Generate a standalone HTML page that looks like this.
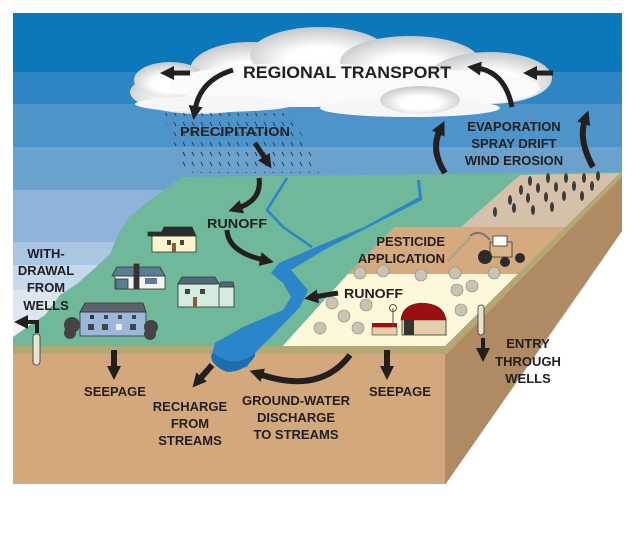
<!DOCTYPE html>
<html><head><meta charset="utf-8"><style>
html,body{margin:0;padding:0;background:#fff;}
svg{display:block;}
text{font-family:"Liberation Sans",Arial,sans-serif;font-weight:bold;fill:#231f20;}
</style></head><body>
<svg width="632" height="549" viewBox="0 0 632 549" xmlns="http://www.w3.org/2000/svg">
<defs>
<marker id="ah" markerUnits="userSpaceOnUse" markerWidth="16" markerHeight="16" refX="4" refY="8" orient="auto">
<path d="M0,1 L14,8 L0,15 Z" fill="#231f20"/>
</marker>
<pattern id="rain" width="9" height="10" patternUnits="userSpaceOnUse">
<line x1="3" y1="2" x2="5" y2="6" stroke="#2a3d55" stroke-width="1"/>
</pattern>
<radialGradient id="cl2" cx="0.5" cy="0.6" r="0.6">
<stop offset="0.4" stop-color="#ffffff"/><stop offset="1" stop-color="#c4c6c9"/>
</radialGradient>
</defs>

<!-- sky bands -->
<rect x="13" y="13" width="609" height="60" fill="#0a78ba"/>
<rect x="13" y="72" width="609" height="32" fill="#2f86c4"/>
<rect x="13" y="104" width="609" height="43" fill="#4d94ca"/>
<rect x="13" y="147" width="609" height="43" fill="#6aa1cd"/>
<rect x="13" y="190" width="609" height="52" fill="#8fb4dc"/>
<rect x="13" y="242" width="609" height="23" fill="#a9c6e3"/>
<rect x="13" y="265" width="609" height="25" fill="#c5d8ec"/>
<rect x="13" y="290" width="609" height="30" fill="#dde7f2"/>
<rect x="13" y="320" width="609" height="40" fill="#eef2f7"/>
<polygon points="446,490 622,231 632,231 632,549 446,549" fill="#ffffff"/>

<!-- clouds -->
<g>
<ellipse cx="200" cy="92" rx="70" ry="22" fill="url(#cl2)"/>
<ellipse cx="250" cy="70" rx="60" ry="28" fill="url(#cl2)"/>
<ellipse cx="320" cy="55" rx="70" ry="28" fill="url(#cl2)"/>
<ellipse cx="410" cy="62" rx="70" ry="26" fill="url(#cl2)"/>
<ellipse cx="490" cy="78" rx="62" ry="26" fill="url(#cl2)"/>
<ellipse cx="170" cy="80" rx="36" ry="18" fill="url(#cl2)"/>
<ellipse cx="300" cy="85" rx="130" ry="22" fill="#fafafa"/>
<ellipse cx="440" cy="88" rx="100" ry="18" fill="#fafafa"/>
<ellipse cx="215" cy="104" rx="80" ry="8" fill="#f6f6f6"/>
<ellipse cx="410" cy="108" rx="90" ry="9" fill="#f6f6f6"/>
<ellipse cx="420" cy="100" rx="40" ry="14" fill="url(#cl2)"/>
</g>

<!-- rain -->
<polygon points="162,113 291,113 320,173 186,173" fill="url(#rain)"/>

<!-- block faces -->
<polygon points="13,352 446,352 446,484 13,484" fill="#d2a87c"/>
<polygon points="445,352 622,173 622,231 445,485" fill="#b08a62"/>
<path d="M182,177 L622,172 L622,176 L445,350 L13,350 L13,337 L30,325 L45,315 L60,295 L78,283 L95,268 L110,254 L118,235 L128,218 L148,202 Z" fill="#6fb89a"/>
<polygon points="461,227 520,175 622,173 622,176 567,227" fill="#d5c1a9"/>
<polygon points="395,227 567,227 518,274 348,274" fill="#d5aa7f"/>
<polygon points="348,274 518,274 445,350 279,350" fill="#fdf8d9"/>
<polygon points="13,346 446,346 446,354 13,354" fill="#b3a874"/>
<polygon points="441,350 622,171 622,177 446,355" fill="#b3a874"/>

<!-- river -->
<path d="M417,180 L419,197 L364,227 L316,247 L279,263 L271,273 L283,283 L291,297 L283,310 L243,327 L215,343 L211,357 L227,370 L247,367 L255,353 L271,337 L300,307 L308,290 L291,270 L324,250 L422,200 L420,180 Z" fill="#2a86c8"/>
<path d="M287,178 L267,210 L283,227 L312,247" fill="none" stroke="#2a86c8" stroke-width="2.5"/>
<path d="M213,353 Q235,370 255,353 L255,356 Q245,372 227,372 Q212,366 211,356 Z" fill="#1c6fae"/>

<!-- houses -->
<g stroke="#333" stroke-width="0.8">
<rect x="152" y="236" width="44" height="16" fill="#fbf4cc"/>
<polygon points="160,236 164,227 192,227 196,236" fill="#2b2b2b"/>
<rect x="148" y="232" width="13" height="4" fill="#2b2b2b"/>
<rect x="115" y="276" width="50" height="13" fill="#f3f3f0"/>
<polygon points="112,276 117,267 160,267 165,276" fill="#597d95"/>
<rect x="134" y="264" width="5" height="25" fill="#333"/>
<rect x="116" y="279" width="12" height="10" fill="#597d95"/>
<rect x="178" y="284" width="42" height="23" fill="#d4ece0"/>
<rect x="219" y="287" width="15" height="20" fill="#d4ece0"/>
<polygon points="178,284 182,277 215,277 219,284" fill="#4f6b78"/>
<polygon points="219,287 221,282 233,282 234,287" fill="#4f6b78"/>
<rect x="80" y="312" width="66" height="24" fill="#9ab8dc"/>
<polygon points="80,312 85,303 143,303 146,312" fill="#5c6268"/>
</g>
<g fill="#444">
<circle cx="72" cy="325" r="8"/><circle cx="70" cy="333" r="6"/><circle cx="151" cy="327" r="7"/><circle cx="150" cy="334" r="6"/>
<rect x="90" y="315" width="4" height="4" fill="#333"/><rect x="104" y="315" width="4" height="4"/><rect x="118" y="315" width="4" height="4"/><rect x="132" y="315" width="4" height="4"/>
<rect x="88" y="324" width="6" height="6"/><rect x="102" y="324" width="6" height="6"/><rect x="116" y="324" width="6" height="6" fill="#eee"/><rect x="130" y="324" width="6" height="6"/>
<rect x="167" y="240" width="4" height="5"/><rect x="180" y="240" width="4" height="5"/><rect x="172" y="243" width="4" height="9" fill="#8a5a3a"/>
<rect x="185" y="289" width="5" height="5"/><rect x="200" y="289" width="5" height="5"/><rect x="193" y="297" width="4" height="10" fill="#8a5a3a"/>
<rect x="145" y="278" width="12" height="6" fill="#597d95"/>
</g>

<!-- trees -->
<g fill="#c8c3b3" stroke="#8c8577" stroke-width="0.6">
<circle cx="360" cy="273" r="6"/><circle cx="383" cy="271" r="6"/><circle cx="421" cy="275" r="6"/><circle cx="455" cy="273" r="6"/><circle cx="494" cy="273" r="6"/>
<circle cx="457" cy="290" r="6"/><circle cx="472" cy="286" r="6"/><circle cx="332" cy="303" r="6"/><circle cx="366" cy="305" r="6"/>
<circle cx="344" cy="316" r="6"/><circle cx="320" cy="328" r="6"/><circle cx="358" cy="328" r="6"/><circle cx="461" cy="310" r="6"/>
</g>
<rect x="402" y="318" width="44" height="17" fill="#e2cfa8" stroke="#333" stroke-width="0.8"/>
<path d="M401,320 Q402,305 420,303 Q444,303 446,320 Z" fill="#9c0f10" stroke="#333" stroke-width="0.6"/>
<rect x="404" y="320" width="10" height="15" fill="#333"/>
<rect x="372" y="327" width="25" height="8" fill="#e2cfa8" stroke="#333" stroke-width="0.6"/>
<rect x="372" y="323" width="25" height="4" fill="#9c0f10"/>
<line x1="393" y1="308" x2="393" y2="327" stroke="#555" stroke-width="1"/>
<circle cx="393" cy="308" r="3.5" fill="none" stroke="#555"/>
<rect x="490" y="242" width="22" height="15" fill="#d9b48a" stroke="#333" stroke-width="0.8"/>
<rect x="493" y="236" width="14" height="10" fill="#fff" stroke="#333" stroke-width="0.8"/>
<circle cx="485" cy="257" r="7" fill="#2b2b2b"/><circle cx="505" cy="262" r="5" fill="#2b2b2b"/><circle cx="520" cy="258" r="5" fill="#2b2b2b"/>
<path d="M490,240 Q480,228 470,236" stroke="#777" stroke-width="2" fill="none"/>
<line x1="470" y1="238" x2="447" y2="262" stroke="#a89a86" stroke-width="3" stroke-dasharray="2 1"/>
<g fill="#3b3b3b">
<ellipse cx="530" cy="181" rx="2" ry="5"/><ellipse cx="548" cy="178" rx="2" ry="5"/><ellipse cx="566" cy="178" rx="2" ry="5"/><ellipse cx="584" cy="178" rx="2" ry="5"/><ellipse cx="598" cy="176" rx="2" ry="5"/>
<ellipse cx="521" cy="190" rx="2" ry="5"/><ellipse cx="538" cy="188" rx="2" ry="5"/><ellipse cx="556" cy="187" rx="2" ry="5"/><ellipse cx="574" cy="186" rx="2" ry="5"/><ellipse cx="592" cy="186" rx="2" ry="5"/>
<ellipse cx="510" cy="200" rx="2" ry="5"/><ellipse cx="528" cy="198" rx="2" ry="5"/><ellipse cx="546" cy="197" rx="2" ry="5"/><ellipse cx="564" cy="196" rx="2" ry="5"/><ellipse cx="582" cy="196" rx="2" ry="5"/>
<ellipse cx="495" cy="212" rx="2" ry="5"/><ellipse cx="514" cy="208" rx="2" ry="5"/><ellipse cx="533" cy="210" rx="2" ry="5"/><ellipse cx="552" cy="207" rx="2" ry="5"/>
</g>
<rect x="33" y="334" width="7" height="31" rx="3" fill="#e8e2d2" stroke="#333" stroke-width="0.8"/>
<rect x="478" y="305" width="6" height="30" rx="3" fill="#e8e2d2" stroke="#333" stroke-width="0.8"/>

<g fill="none" stroke="#231f20" stroke-width="5" marker-end="url(#ah)">
<path d="M190,73 L170,73"/>
<path d="M553,73 L533,73"/>
<path d="M233,70 Q200,80 195,110"/>
<path d="M512,107 Q505,72 477,68"/>
<path d="M255,143 L266,160"/>
<path d="M259,178 Q262,200 238,208"/>
<path d="M227,230 Q228,252 264,260"/>
<path d="M338,293 L314,297"/>
<path d="M445,173 Q430,150 440,130" stroke-width="6"/>
<path d="M593,167 Q578,140 585,120" stroke-width="6"/>
<path d="M114,350 L114,370" stroke-width="6"/>
<path d="M387,350 L387,370" stroke-width="6"/>
<path d="M212,365 L199,380" stroke-width="6"/>
<path d="M350,355 Q320,395 259,374" stroke-width="6"/>
<path d="M483,338 L483,352" stroke-width="4"/>
<path d="M37,333 L37,322 L24,322" stroke-width="4"/>
</g>

<text x="243" y="78" font-size="17" textLength="208" lengthAdjust="spacingAndGlyphs">REGIONAL TRANSPORT</text>
<text x="180" y="136" font-size="13" textLength="110" lengthAdjust="spacingAndGlyphs">PRECIPITATION</text>
<g font-size="13" text-anchor="middle">
<text x="514" y="131">EVAPORATION</text>
<text x="514" y="148">SPRAY DRIFT</text>
<text x="514" y="165">WIND EROSION</text>
</g>
<text x="207" y="228" font-size="13" textLength="60" lengthAdjust="spacingAndGlyphs">RUNOFF</text>
<g font-size="13" text-anchor="end">
<text x="445" y="246">PESTICIDE</text>
<text x="445" y="263">APPLICATION</text>
</g>
<text x="344" y="298" font-size="13" textLength="59" lengthAdjust="spacingAndGlyphs">RUNOFF</text>
<g font-size="13" text-anchor="middle">
<text x="46" y="258">WITH-</text>
<text x="46" y="275">DRAWAL</text>
<text x="46" y="292">FROM</text>
<text x="46" y="310">WELLS</text>
<text x="528" y="348">ENTRY</text>
<text x="528" y="366">THROUGH</text>
<text x="528" y="383">WELLS</text>
<text x="115" y="396">SEEPAGE</text>
<text x="400" y="396">SEEPAGE</text>
<text x="190" y="411">RECHARGE</text>
<text x="190" y="428">FROM</text>
<text x="190" y="445">STREAMS</text>
<text x="296" y="405">GROUND-WATER</text>
<text x="296" y="422">DISCHARGE</text>
<text x="296" y="439">TO STREAMS</text>
</g>
</svg>
</body></html>
